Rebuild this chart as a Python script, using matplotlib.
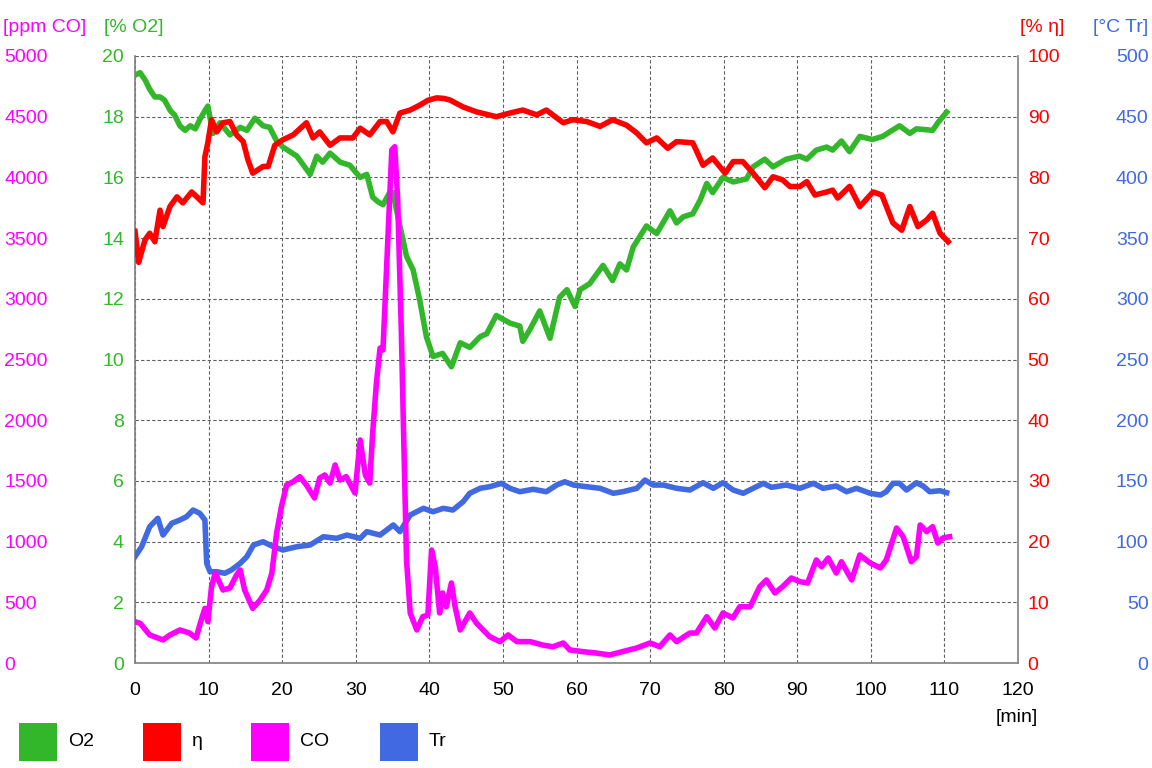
"""
Registro de combustión: O2, rendimiento, CO y temperatura frente al tiempo.
Uso: python3 plot.py  -> guarda out.png
"""

import matplotlib
matplotlib.use("Agg")
import matplotlib.pyplot as plt
from matplotlib.patches import Rectangle

# ── Datos ──────────────────────────────────────────────────────────
o2_t = [0, 0.7, 1.4, 2.0, 2.7, 3.4, 4.0, 4.8, 5.4, 6.1, 6.8, 7.5, 8.2, 8.8, 9.5,
        9.9, 10.6, 11.55, 12.9, 14.3, 15.2, 16.3, 17.4, 18.3, 19.25, 20.1, 22.0,
        23.8, 24.7, 25.5, 26.5, 27.9, 29.2, 30.6, 31.5, 32.3, 33.0, 33.7, 34.6,
        35.05, 36.0, 36.9, 37.8, 38.7, 39.6, 40.5, 41.8, 43.0, 44.2, 45.5, 46.9,
        47.8, 49.1, 50.95, 52.3, 52.7, 53.7, 55.0, 56.4, 57.7, 58.7, 59.8, 60.5,
        61.8, 63.6, 64.9, 65.9, 66.8, 67.7, 69.5, 70.9, 72.7, 73.6, 74.5, 75.8,
        76.8, 77.7, 78.5, 79.9, 81.3, 83.1, 84.0, 85.6, 86.7, 88.5, 90.3, 91.3,
        92.6, 94.0, 94.8, 96.0, 97.1, 98.5, 100.2, 101.6, 102.9, 103.9, 105.3,
        106.2, 108.4, 109.1, 110.3]
o2_v = [19.37, 19.45, 19.2, 18.9, 18.65, 18.65, 18.55, 18.2, 18.05, 17.7, 17.55,
        17.7, 17.6, 17.9, 18.2, 18.35, 17.45, 17.8, 17.4, 17.65, 17.55, 17.95,
        17.7, 17.65, 17.2, 17.0, 16.7, 16.1, 16.7, 16.5, 16.8, 16.5, 16.4, 16.0,
        16.1, 15.35, 15.2, 15.1, 15.5, 15.5, 14.4, 13.4, 12.95, 11.95, 10.75,
        10.1, 10.2, 9.76, 10.55, 10.4, 10.75, 10.85, 11.45, 11.2, 11.1, 10.6,
        11.0, 11.6, 10.7, 12.05, 12.3, 11.75, 12.3, 12.5, 13.1, 12.6, 13.15,
        12.95, 13.7, 14.4, 14.15, 14.9, 14.5, 14.7, 14.8, 15.25, 15.8, 15.5,
        16.0, 15.85, 15.95, 16.35, 16.6, 16.35, 16.6, 16.7, 16.6, 16.9, 17.0,
        16.9, 17.2, 16.85, 17.35, 17.25, 17.35, 17.55, 17.7, 17.45, 17.6, 17.55,
        17.8, 18.15]

eta_t = [0, 0.5, 0.7, 1.36, 2.0, 2.7, 3.4, 3.8, 4.75, 5.7, 6.5, 7.7, 8.4, 9.24,
         9.5, 9.9, 10.4, 11.1, 11.96, 12.9, 13.8, 14.7, 15.35, 16.0, 17.4, 18.1,
         19.0, 20.1, 21.5, 23.3, 24.2, 25.1, 26.5, 27.85, 29.6, 30.6, 31.9, 33.3,
         34.2, 35.05, 36.0, 37.4, 38.7, 39.8, 41.0, 42.0, 42.8, 44.6, 46.4, 49.1,
         50.95, 52.7, 54.6, 55.9, 58.2, 59.5, 61.4, 63.2, 64.9, 66.8, 68.2, 69.5,
         70.9, 72.4, 73.6, 75.8, 77.2, 78.5, 80.2, 81.3, 82.6, 84.0, 85.6, 86.7,
         88.0, 89.0, 90.35, 91.3, 92.4, 94.0, 94.8, 95.5, 97.1, 98.5, 100.3,
         101.5, 103.0, 104.2, 105.3, 106.4, 107.6, 108.4, 109.4, 110.5]
eta_v = [71.1, 66.0, 66.9, 69.7, 70.8, 69.4, 74.6, 71.9, 75.2, 76.8, 75.8, 77.6,
         76.8, 75.8, 83.4, 85.7, 89.5, 87.5, 89.0, 89.2, 87.0, 85.9, 82.9, 80.7,
         81.8, 81.8, 85.3, 86.2, 87.0, 89.0, 86.5, 87.5, 85.3, 86.5, 86.5, 88.1,
         87.0, 89.2, 89.2, 87.5, 90.6, 91.1, 91.9, 92.7, 93.1, 93.0, 92.75, 91.6,
         90.8, 90.0, 90.6, 91.1, 90.3, 91.1, 89.0, 89.5, 89.2, 88.4, 89.5, 88.6,
         87.3, 85.7, 86.5, 84.8, 85.9, 85.7, 82.0, 83.2, 80.7, 82.6, 82.6, 80.7,
         78.3, 80.1, 79.6, 78.5, 78.5, 79.3, 77.1, 77.6, 77.9, 76.6, 78.5, 75.2,
         77.6, 77.1, 72.5, 71.3, 75.2, 71.9, 73.0, 74.1, 70.8, 69.4]

co_t = [0, 0.7, 2.0, 3.8, 4.75, 6.1, 7.4, 8.3, 9.0, 9.5, 9.9, 10.4, 10.9, 11.96,
        12.9, 13.8, 14.3, 14.9, 16.0, 17.0, 17.9, 18.6, 19.25, 19.9, 20.6, 21.5,
        22.4, 23.3, 24.4, 25.1, 25.8, 26.5, 27.2, 27.85, 28.7, 29.9, 30.6, 31.3,
        31.9, 32.3, 32.8, 33.3, 33.7, 34.4, 34.9, 35.3, 35.7, 36.2, 36.5, 36.9,
        37.4, 38.3, 39.1, 39.8, 40.3, 40.8, 41.4, 41.8, 42.3, 43.0, 43.5, 44.2,
        45.5, 46.4, 48.2, 49.6, 50.7, 51.9, 53.7, 55.4, 56.8, 58.2, 59.1, 60.9,
        62.7, 64.5, 66.2, 68.2, 70.0, 71.3, 72.7, 73.6, 75.4, 76.3, 77.7, 78.8,
        79.9, 81.25, 82.2, 83.6, 84.9, 85.8, 86.96, 88.0, 89.2, 90.35, 91.4, 92.6,
        93.3, 94.2, 95.3, 96.0, 97.4, 98.5, 99.9, 101.3, 102.1, 103.5, 104.4,
        105.5, 106.2, 106.7, 107.6, 108.4, 109.1, 109.8, 110.7]
co_v = [340, 327, 231, 190, 231, 272, 247, 206, 354, 450, 340, 628, 741, 601,
        618, 725, 766, 601, 450, 519, 601, 741, 1071, 1288, 1466, 1493, 1535,
        1466, 1359, 1524, 1549, 1482, 1631, 1507, 1535, 1400, 1837, 1549, 1482,
        1894, 2300, 2594, 2578, 3542, 4226, 4253, 3814, 2718, 1900, 850, 412,
        272, 381, 395, 931, 793, 412, 577, 464, 659, 464, 272, 412, 329, 217,
        176, 231, 176, 176, 148, 134, 165, 107, 93, 82, 66, 93, 124, 165, 134,
        231, 176, 247, 247, 381, 288, 412, 371, 464, 464, 628, 684, 577, 628,
        700, 670, 659, 849, 793, 865, 741, 834, 684, 890, 824, 783, 849, 1112,
        1040, 834, 876, 1137, 1082, 1123, 988, 1030, 1040]

tr_t = [0, 0.9, 2.0, 3.1, 3.8, 5.0, 6.1, 7.0, 7.9, 8.8, 9.5, 9.74, 10.2, 11.1,
        12.2, 13.1, 14.3, 15.2, 16.1, 17.4, 18.8, 20.1, 22.0, 23.8, 25.6, 27.4,
        28.8, 30.6, 31.5, 33.3, 35.1, 36.0, 37.4, 39.2, 40.5, 41.9, 43.2, 44.6,
        45.5, 46.9, 48.2, 49.8, 50.95, 52.3, 54.1, 55.9, 57.3, 58.4, 59.6, 61.4,
        63.2, 65.0, 66.3, 68.2, 69.3, 70.4, 71.8, 73.6, 75.4, 77.2, 78.6, 79.9,
        81.3, 82.65, 84.0, 85.4, 86.5, 88.5, 90.35, 92.2, 93.5, 95.3, 96.7,
        98.05, 99.9, 101.3, 102.1, 103.0, 103.9, 104.85, 106.2, 107.1, 108.0,
        109.4, 110.3]
tr_v = [87.6, 95.8, 112.3, 119.2, 105.4, 115.1, 117.8, 120.5, 126, 123.3, 117.8,
        82.1, 75.2, 75.2, 73.9, 76.6, 82.1, 87.6, 97.2, 99.9, 95.8, 93.1, 95.8,
        97.2, 104, 102.7, 105.4, 102.7, 108.2, 105.4, 113.7, 108.2, 121.9, 127.4,
        124.6, 127.4, 126, 132.9, 139.8, 143.9, 145.2, 148, 143.9, 141.1, 143.1,
        141.1, 146.6, 149.3, 146.6, 145.2, 143.9, 139.8, 141.1, 143.9, 150.7,
        146.6, 146.6, 143.9, 142.5, 148.5, 143.9, 148.5, 142.5, 139.8, 143.9,
        148, 144.7, 146.6, 143.9, 148, 143.9, 145.8, 141.1, 143.9, 139.8, 138.4,
        141.1, 148, 148, 142.5, 148.5, 145.8, 141.1, 141.9, 140.3]

x_ticks = list(range(0, 130, 10))
o2_ticks = list(range(0, 22, 2))
co_ticks = list(range(0, 5500, 500))
eta_ticks = list(range(0, 110, 10))
tr_ticks = list(range(0, 550, 50))

# ── Paleta ─────────────────────────────────────────────────────────
VERDE = "#33b72a"
ROJO = "#ff0000"
MAGENTA = "#ff00ff"
AZUL = "#4169e1"
GRIS = "#808080"
FUENTE = "Liberation Sans"
FS = 14
LW = 4.0

plt.rcParams["font.family"] = [FUENTE, "DejaVu Sans"]

W, H = 1152, 768
fig = plt.figure(figsize=(W / 100, H / 100), dpi=100, facecolor="white")
ax = fig.add_axes([135 / W, 1 - 663 / H, (1018 - 135) / W, (663 - 56) / H])

# ── Ejes gemelos ───────────────────────────────────────────────────
ax_tr = ax.twinx()
ax_co = ax.twinx()
ax_eta = ax.twinx()

ax.set_zorder(1)
ax_tr.set_zorder(2)
ax_eta.set_zorder(3)
ax_co.set_zorder(4)
for a in (ax_tr, ax_co, ax_eta):
    a.patch.set_visible(False)
    for sp in a.spines.values():
        sp.set_visible(False)

# Rejilla y marco
ax.set_xlim(0, 120)
ax.set_ylim(0, 20)
ax.set_xticks(x_ticks)
ax.set_yticks(o2_ticks)
ax.grid(True, color="#606060", linewidth=0.8, linestyle=(0, (3, 2)))
for nombre, sp in ax.spines.items():
    sp.set_color(GRIS)
    sp.set_linewidth(1.2)
ax.spines["top"].set_visible(False)

ax.tick_params(axis="x", length=0, pad=14, labelsize=FS, labelcolor="black")
ax.tick_params(axis="y", length=0, pad=8, labelsize=FS, labelcolor=VERDE)

# CO: etiquetas a la izquierda del todo, alineadas a la izquierda
ax_co.yaxis.tick_left()
ax_co.set_ylim(0, 5000)
ax_co.set_yticks(co_ticks)
ax_co.tick_params(axis="y", length=0, pad=94, labelsize=FS, labelcolor=MAGENTA)
plt.setp(ax_co.get_yticklabels(), ha="left")

# η: a la derecha, pegado al marco
ax_eta.set_ylim(0, 100)
ax_eta.set_yticks(eta_ticks)
ax_eta.tick_params(axis="y", length=0, pad=7, labelsize=FS, labelcolor=ROJO)

# Tr: a la derecha del todo, alineado a la derecha
ax_tr.set_ylim(0, 500)
ax_tr.set_yticks(tr_ticks)
ax_tr.tick_params(axis="y", length=0, pad=94, labelsize=FS, labelcolor=AZUL)
plt.setp(ax_tr.get_yticklabels(), ha="right")

# ── Series ─────────────────────────────────────────────────────────
ax_tr.plot(tr_t, tr_v, color=AZUL, linewidth=LW, solid_joinstyle="round")
ax.plot(o2_t, o2_v, color=VERDE, linewidth=LW, solid_joinstyle="round")
ax_eta.plot(eta_t, eta_v, color=ROJO, linewidth=LW, solid_joinstyle="round")
ax_co.plot(co_t, co_v, color=MAGENTA, linewidth=LW, solid_joinstyle="round")

# ── Cabeceras de unidades ──────────────────────────────────────────
y_cab = 1 - 28 / H
fig.text(3 / W, y_cab, "[ppm CO]", color=MAGENTA, fontsize=FS, va="center")
fig.text(104 / W, y_cab, "[% O2]", color=VERDE, fontsize=FS, va="center")
fig.text(1020 / W, y_cab, "[% η]", color=ROJO, fontsize=FS, va="center")
fig.text(1148 / W, y_cab, "[°C Tr]", color=AZUL, fontsize=FS, va="center",
         ha="right")
fig.text(1017 / W, 1 - 717 / H, "[min]", color="black", fontsize=FS,
         ha="center", va="center")

# ── Leyenda ────────────────────────────────────────────────────────
leyenda = [("O2", VERDE, 19), ("η", ROJO, 143), ("CO", MAGENTA, 251),
           ("Tr", AZUL, 380)]
for texto, color, x0 in leyenda:
    fig.add_artist(Rectangle((x0 / W, 1 - 761 / H), 38 / W, 38 / H,
                             facecolor=color, edgecolor="none",
                             transform=fig.transFigure))
    fig.text((x0 + 49) / W, 1 - 742 / H, texto, color="black", fontsize=FS,
             va="center")

fig.savefig("out.png", dpi=100, facecolor="white")
